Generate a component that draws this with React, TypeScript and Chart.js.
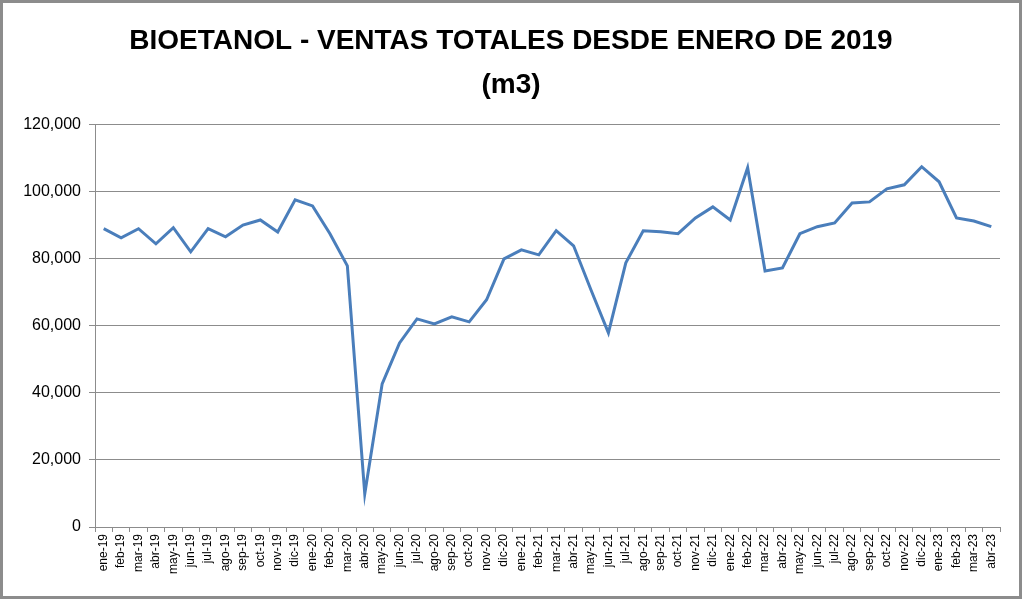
import React, { useEffect, useRef } from "react";
import { Chart, registerables } from "chart.js";

Chart.register(...registerables);

const TITLE_LINES = ["BIOETANOL - VENTAS TOTALES DESDE ENERO DE 2019", "(m3)"];

const MONTHS = [
  "ene-19", "feb-19", "mar-19", "abr-19", "may-19", "jun-19", "jul-19", "ago-19", "sep-19", "oct-19", "nov-19", "dic-19",
  "ene-20", "feb-20", "mar-20", "abr-20", "may-20", "jun-20", "jul-20", "ago-20", "sep-20", "oct-20", "nov-20", "dic-20",
  "ene-21", "feb-21", "mar-21", "abr-21", "may-21", "jun-21", "jul-21", "ago-21", "sep-21", "oct-21", "nov-21", "dic-21",
  "ene-22", "feb-22", "mar-22", "abr-22", "may-22", "jun-22", "jul-22", "ago-22", "sep-22", "oct-22", "nov-22", "dic-22",
  "ene-23", "feb-23", "mar-23", "abr-23",
];

const SALES = [
  89000, 86300, 89000, 84500, 89300, 82100, 89000, 86600, 90100, 91600, 88000, 97600,
  95800, 87500, 77900, 9900, 42700, 54900, 62100, 60600, 62700, 61200, 67800, 80000,
  82700, 81200, 88400, 83900, 70700, 57900, 78800, 88400, 88100, 87500, 92200, 95500,
  91600, 107200, 76400, 77300, 87500, 89600, 90700, 96700, 97000, 100900, 102100, 107500,
  103000, 92200, 91300, 89600,
];

const Y_MIN = 0;
const Y_MAX = 120000;
const Y_STEP = 20000;

const borderPlugin = {
  id: "outerBorder",
  afterDraw(chart: any) {
    const { ctx, width, height } = chart;
    ctx.save();
    ctx.strokeStyle = "#8c8c8c";
    ctx.lineWidth = 3;
    ctx.strokeRect(1.5, 1.5, width - 3, height - 3);
    ctx.restore();
  },
};

export default function App() {
  const ref = useRef<HTMLCanvasElement>(null);
  useEffect(() => {
    if (!ref.current) return;
    const chart = new Chart(ref.current, {
      type: "line",
      data: {
        labels: MONTHS,
        datasets: [
          {
            data: SALES,
            borderColor: "#4a7ebb",
            borderWidth: 3,
            pointRadius: 0,
            tension: 0,
            fill: false,
          },
        ],
      },
      plugins: [borderPlugin],
      options: {
        animation: false,
        responsive: false,
        devicePixelRatio: 1,
        layout: { padding: { left: 0, right: 0, top: 0, bottom: 0 } },
        plugins: {
          legend: { display: false },
          tooltip: { enabled: false },
          title: {
            display: true,
            text: TITLE_LINES,
            color: "#000",
            font: { family: "Liberation Sans", size: 28, weight: "bold", lineHeight: 1.55 },
            padding: { top: 20, bottom: 18 },
          },
        },
        scales: {
          x: {
            type: "category",
            offset: true,
            grid: {
              display: true,
              offset: true,
              drawOnChartArea: false,
              drawTicks: true,
              tickLength: 5,
              color: "#8c8c8c",
            },
            border: { display: true, color: "#8c8c8c", width: 1 },
            ticks: {
              autoSkip: false,
              maxRotation: 90,
              minRotation: 90,
              padding: 2,
              color: "#000",
              font: { family: "Liberation Sans", size: 12 },
            },
            afterFit(scale: any) {
              scale.height = 72;
            },
          },
          y: {
            min: Y_MIN,
            max: Y_MAX,
            ticks: {
              stepSize: Y_STEP,
              color: "#000",
              padding: 8,
              font: { family: "Liberation Sans", size: 16 },
              callback: (v: any) => Number(v).toLocaleString("en-US"),
            },
            grid: { color: "#8c8c8c", lineWidth: 1, tickLength: 6 },
            border: { display: true, color: "#8c8c8c", width: 1 },
            afterFit(scale: any) {
              scale.width = 95;
            },
          },
          yRight: {
            position: "right",
            display: true,
            min: Y_MIN,
            max: Y_MAX,
            grid: { display: false, drawTicks: false },
            border: { display: false },
            ticks: { display: false },
            afterFit(scale: any) {
              scale.width = 22;
            },
          },
        },
      },
    });
    return () => chart.destroy();
  }, []);
  return (
    <div style={{ position: "fixed", left: 0, top: 0, width: 1022, height: 599, background: "#fff" }}>
      <canvas ref={ref} width={1022} height={599} style={{ width: 1022, height: 599 }} />
    </div>
  );
}
